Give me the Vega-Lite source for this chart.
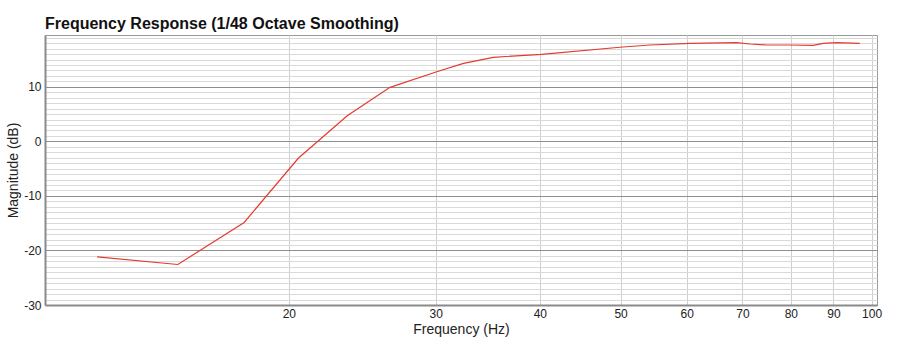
{
  "$schema": "https://vega.github.io/schema/vega-lite/v6.json",
  "width": 832,
  "height": 270,
  "autosize": "none",
  "padding": {"left": 45, "top": 35, "right": 32, "bottom": 35},
  "background": "white",
  "title": {
    "text": "Frequency Response (1/48 Octave Smoothing)",
    "anchor": "start",
    "frame": "group",
    "font": "Liberation Sans",
    "fontSize": 16,
    "fontWeight": "bold",
    "color": "#111",
    "offset": 3
  },
  "config": {
    "view": {"stroke": "#999", "strokeWidth": 1},
    "axis": {"labelFont": "Liberation Sans", "titleFont": "Liberation Sans", "labelColor": "#222", "titleColor": "#222", "titleFontWeight": "normal"}
  },
  "data": {
    "values": [
      {"freq": 11.78, "db": -21.17},
      {"freq": 14.72, "db": -22.57},
      {"freq": 17.68, "db": -14.86},
      {"freq": 20.53, "db": -3.1},
      {"freq": 23.5, "db": 4.7},
      {"freq": 26.45, "db": 9.9},
      {"freq": 30.09, "db": 12.77},
      {"freq": 32.4, "db": 14.3},
      {"freq": 35.18, "db": 15.41},
      {"freq": 40.2, "db": 15.96},
      {"freq": 49.9, "db": 17.25},
      {"freq": 54.2, "db": 17.67},
      {"freq": 60.56, "db": 17.98},
      {"freq": 68.9, "db": 18.09},
      {"freq": 71.5, "db": 17.85},
      {"freq": 74.8, "db": 17.67},
      {"freq": 79.8, "db": 17.67},
      {"freq": 85.1, "db": 17.6},
      {"freq": 87.5, "db": 17.98},
      {"freq": 90.8, "db": 18.09},
      {"freq": 96.8, "db": 17.98}
    ]
  },
  "mark": {"type": "line", "color": "#e33b2e", "strokeWidth": 1.2, "clip": true},
  "encoding": {
    "x": {
      "field": "freq",
      "type": "quantitative",
      "scale": {"type": "log", "domain": [10.2, 101.5], "nice": false, "zero": false},
      "axis": {
        "title": "Frequency (Hz)",
        "titleFontSize": 14,
        "titlePadding": 3,
        "values": [20, 30, 40, 50, 60, 70, 80, 90, 100],
        "format": "d",
        "labelFontSize": 12,
        "labelPadding": 3,
        "ticks": false,
        "grid": true,
        "gridColor": "#cfcfcf",
        "gridWidth": 1,
        "domainColor": "#8a8a8a",
        "domainWidth": 2,
        "labelFlush": false
      }
    },
    "y": {
      "field": "db",
      "type": "quantitative",
      "scale": {"domain": [-30, 19.5], "nice": false, "zero": false},
      "axis": {
        "title": "Magnitude (dB)",
        "titleFontSize": 14,
        "titlePadding": 3,
        "values": [-30, -29, -28, -27, -26, -25, -24, -23, -22, -21, -20, -19, -18, -17, -16, -15, -14, -13, -12, -11, -10, -9, -8, -7, -6, -5, -4, -3, -2, -1, 0, 1, 2, 3, 4, 5, 6, 7, 8, 9, 10, 11, 12, 13, 14, 15, 16, 17, 18, 19],
        "labelExpr": "datum.value % 10 === 0 ? '' + datum.value : ''",
        "labelFontSize": 12,
        "labelPadding": 4,
        "ticks": false,
        "grid": true,
        "gridColor": {"condition": {"test": "datum.value % 10 === 0", "value": "#8f8f8f"}, "value": "#dadada"},
        "gridWidth": 1,
        "domainColor": "#8a8a8a",
        "domainWidth": 2,
        "labelFlush": false
      }
    }
  }
}
